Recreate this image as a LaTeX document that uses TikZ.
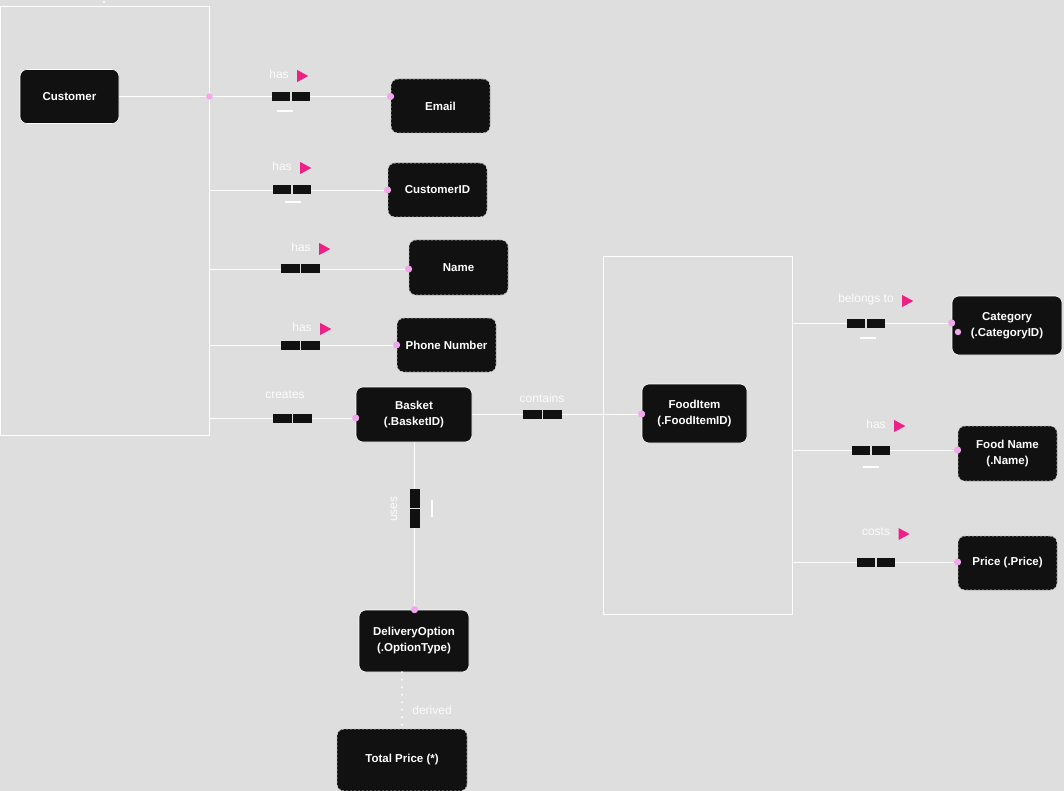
\documentclass[tikz,border=0pt]{standalone}
\usepackage{fontspec}
\setmainfont{Liberation Sans}
\usetikzlibrary{positioning,arrows.meta}
\definecolor{bggray}{HTML}{DEDEDE}
\definecolor{entblack}{HTML}{111111}
\definecolor{dotpink}{HTML}{F2A6EE}
\definecolor{flagpink}{HTML}{EE1F85}
\definecolor{lblwhite}{HTML}{FCFCFC}
\tikzset{
  ent/.style={rectangle, rounded corners=7pt, fill=entblack, draw=white, line width=0.6pt,
    text=white, align=center, font=\fontsize{11.5}{16}\selectfont\bfseries,
    minimum width=99pt, minimum height=54pt, inner sep=2pt},
  attr/.style={ent, draw=white!75!black, dash pattern=on 2pt off 2pt, line width=0.8pt},
  frame/.style={draw=white, line width=0.8pt, inner sep=0pt},
  link/.style={draw=white, line width=0.8pt},
  rel/.style={link, -{Circle[length=7pt, color=dotpink]}, shorten >=-3.5pt},
  rhalf/.style={rectangle, fill=entblack, minimum width=18.5pt, minimum height=9pt, inner sep=0pt},
  lbl/.style={text=lblwhite, font=\fontsize{12}{14}\selectfont},
  uline/.style={draw=white, line width=1.6pt}
}
\newcommand{\rolebox}[3]{%
  \node[rhalf, anchor=east] (#1a) at (#2-0.5,#3) {};
  \node[rhalf, anchor=west] (#1b) at (#2+0.5,#3) {};}
\newcommand{\flag}[1]{%
  \fill[flagpink] ([xshift=5pt,yshift=-2pt]#1.east) ++(0,-6) -- ++(0,12) -- ++(11,-6) -- cycle;}
\begin{document}
\begin{tikzpicture}[x=1pt,y=-1pt]
\fill[bggray] (0,0) rectangle (1064,791);
\useasboundingbox (0,0) rectangle (1064,791);
\fill[white] (104,2) circle (1.2pt);

\node[frame, minimum width=209pt, minimum height=429pt] (custFrame) at (104.5,220.5) {};
\node[frame, minimum width=189pt, minimum height=358pt] (foodFrame) at (697.5,435) {};

\node[ent] (cust) at (69.5,96.5) {Customer};
\node[attr] (email) at (440.5,106) {Email};
\node[attr] (custId) at (437.5,190) {CustomerID};
\node[attr, minimum height=55pt] (name) at (458.5,267.5) {Name};
\node[attr] (phone) at (446.5,345) {Phone Number};
\node[ent, minimum width=116pt, minimum height=55pt] (basket) at (414,414.5) {Basket\\(.BasketID)};
\node[ent, minimum width=105pt, minimum height=59pt] (food) at (694.5,413.5) {FoodItem\\(.FoodItemID)};
\node[ent, minimum width=110pt, minimum height=59pt] (cat) at (1007,325.5) {Category\\(.CategoryID)};
\node[attr, minimum height=55pt] (fname) at (1007.5,453.5) {Food Name\\(.Name)};
\node[attr] (price) at (1007.5,563) {Price (.Price)};
\node[ent, minimum width=110pt, minimum height=62pt] (deliv) at (414,641) {DeliveryOption\\(.OptionType)};
\node[attr, minimum width=130pt, minimum height=62pt] (total) at (402,760) {Total Price (*)};

\rolebox{rEmail}{291}{96.5}
\rolebox{rCid}{292}{190}
\rolebox{rName}{300.5}{269}
\rolebox{rPhone}{300.5}{345}
\rolebox{rBasket}{292.5}{418}
\rolebox{rFood}{542.5}{414}
\rolebox{rCat}{866}{323}
\rolebox{rFname}{871}{450}
\rolebox{rPrice}{876}{562}
\node[rhalf, minimum width=10pt, minimum height=18.5pt, anchor=south] (rDelivA) at (414.5,508) {};
\node[rhalf, minimum width=10pt, minimum height=18.5pt, anchor=north] (rDelivB) at (414.5,509) {};

\node[lbl] (lEmail) at (279,74) {has};
\node[lbl] (lCid) at (282,166) {has};
\node[lbl] (lName) at (301,247) {has};
\node[lbl] (lPhone) at (302,327) {has};
\node[lbl] (lBasket) at (285,395) {creates};
\node[lbl] (lFood) at (542,398) {contains};
\node[lbl] (lCat) at (866,299) {belongs to};
\node[lbl] (lFname) at (876,424) {has};
\node[lbl] (lPrice) at (876,532) {costs};
\node[lbl, rotate=90] (lDeliv) at (394,509) {uses};
\node[lbl] (lTotal) at (432,710) {derived};
\foreach \l in {lEmail,lCid,lName,lPhone,lCat,lFname,lPrice}
  {\flag{\l}}

\draw[link] (cust.east) -- (rEmaila.west);
\fill[dotpink] (custFrame.east |- cust.east) circle (3.2pt);
\draw[rel] (rEmailb.east) -- (email.west |- rEmailb.east);
\draw[link] (custFrame.east |- rCida.west) -- (rCida.west);
\draw[rel] (rCidb.east) -- (custId.west |- rCidb.east);
\draw[link] (custFrame.east |- rNamea.west) -- (rNamea.west);
\draw[rel] (rNameb.east) -- (name.west |- rNameb.east);
\draw[link] (custFrame.east |- rPhonea.west) -- (rPhonea.west);
\draw[rel] (rPhoneb.east) -- (phone.west |- rPhoneb.east);
\draw[link] (custFrame.east |- rBasketa.west) -- (rBasketa.west);
\draw[rel] (rBasketb.east) -- (basket.west |- rBasketb.east);
\draw[link] (basket.east |- rFooda.west) -- (rFooda.west);
\draw[rel] (rFoodb.east) -- (food.west |- rFoodb.east);
\draw[link] (foodFrame.east |- rCata.west) -- (rCata.west);
\draw[rel] (rCatb.east) -- (cat.west |- rCatb.east);
\draw[link] (foodFrame.east |- rFnamea.west) -- (rFnamea.west);
\draw[rel] (rFnameb.east) -- (fname.west |- rFnameb.east);
\draw[link] (foodFrame.east |- rPricea.west) -- (rPricea.west);
\draw[rel] (rPriceb.east) -- (price.west |- rPriceb.east);
\draw[link] (basket.south -| rDelivA.north) -- (rDelivA.north);
\draw[rel] (rDelivB.south) -- (deliv.north -| rDelivB.south);
\draw[white, line width=2.2pt, line cap=round, dash pattern=on 0pt off 7.5pt]
  (total.north |- deliv.south) -- (total.north);
\fill[dotpink] (958,332) circle (3.2pt);

\draw[uline] (277,111) -- (293,111);
\draw[uline] (285,202) -- (301,202);
\draw[uline] (860,338) -- (876,338);
\draw[uline] (863,467) -- (879,467);
\draw[uline] (432,500) -- (432,517);
\end{tikzpicture}
\end{document}
